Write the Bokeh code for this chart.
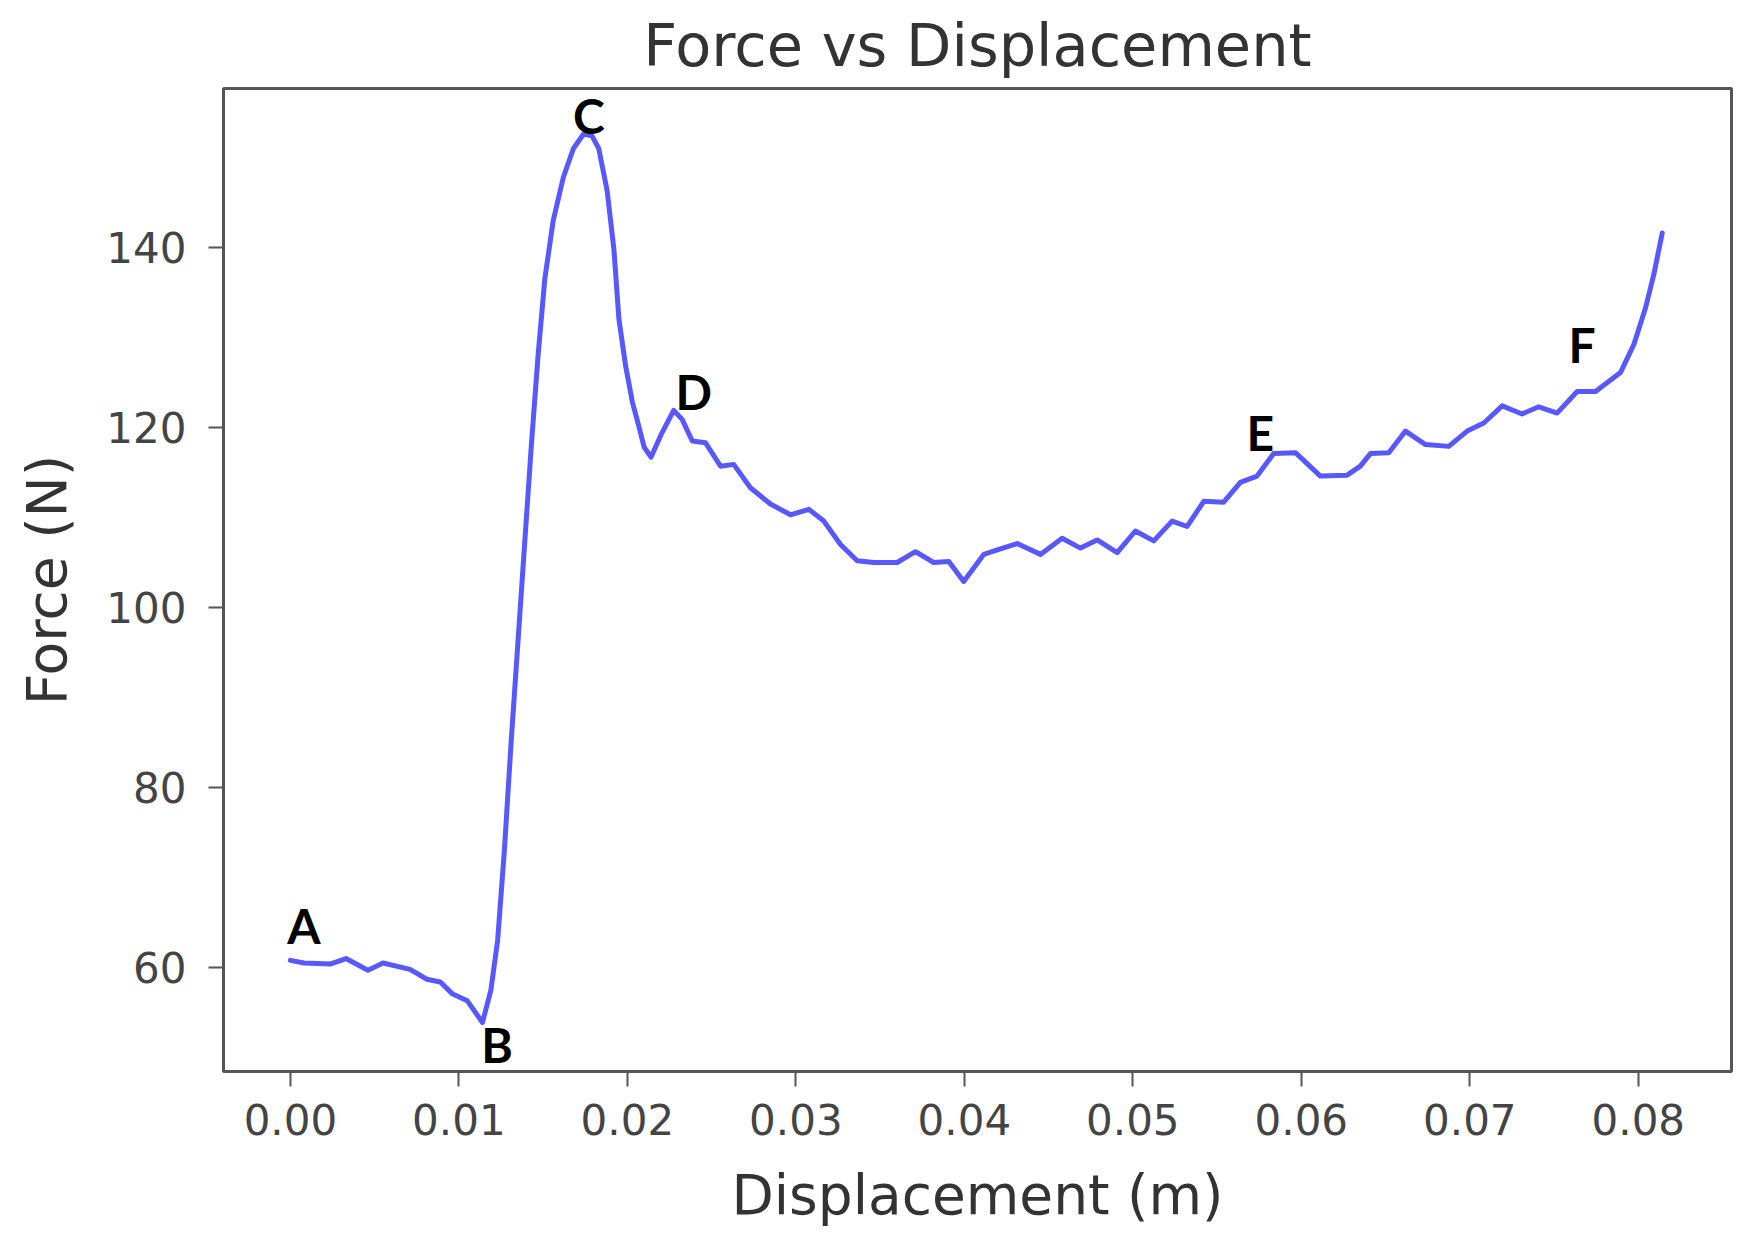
from bokeh.plotting import figure
from bokeh.models import Range1d, FixedTicker, NumeralTickFormatter, ColumnDataSource
from bokeh.core.properties import value
from bokeh.embed import file_html
from bokeh.resources import INLINE

# Displacement (m)
displacement = [
    0.0000, 0.0008, 0.0024, 0.0033, 0.0046, 0.0055, 0.0071, 0.0081, 0.0089, 0.0096,
    0.0105, 0.0114, 0.0119, 0.0123, 0.0127, 0.0131, 0.0135, 0.0139, 0.0143, 0.0147,
    0.0151, 0.0156, 0.0162, 0.0168, 0.0174, 0.0179, 0.0183, 0.0188, 0.0192, 0.0195,
    0.0199, 0.0203, 0.0206, 0.0210, 0.0214, 0.0220, 0.02275, 0.02325, 0.02385, 0.02464,
    0.02553, 0.02631, 0.0273, 0.02849, 0.02968, 0.03077, 0.03166, 0.03265, 0.03364, 0.03462,
    0.03601, 0.0371, 0.03818, 0.03908, 0.03996, 0.04115, 0.04214, 0.04313, 0.04452, 0.0458,
    0.04689, 0.04788, 0.04907, 0.05015, 0.05124, 0.05233, 0.05322, 0.05421, 0.05539, 0.05638,
    0.05737, 0.05836, 0.05965, 0.06113, 0.06272, 0.0635, 0.0641, 0.06519, 0.06618, 0.06737,
    0.06875, 0.06984, 0.07083, 0.07192, 0.0731, 0.07409, 0.07518, 0.07637, 0.07746, 0.07894,
    0.07973, 0.08043, 0.08092, 0.08142,
]
# Force (N)
force = [
    60.8, 60.5, 60.4, 61.0, 59.7, 60.5, 59.8, 58.7, 58.4, 57.1,
    56.3, 53.9, 57.5, 63.0, 73.0, 85.0, 96.0, 107.0, 118.0, 128.0,
    136.5, 143.0, 147.8, 151.0, 152.6, 152.4, 151.0, 146.3, 139.8, 132.0,
    126.8, 122.8, 120.7, 117.8, 116.7, 119.2, 121.9, 120.9, 118.5, 118.3,
    115.7, 115.9, 113.3, 111.5, 110.3, 110.9, 109.6, 107.0, 105.2, 105.0,
    105.0, 106.2, 105.0, 105.1, 102.9, 105.9, 106.5, 107.1, 105.9, 107.7,
    106.6, 107.5, 106.1, 108.5, 107.4, 109.6, 109.0, 111.8, 111.7, 113.9,
    114.6, 117.1, 117.2, 114.6, 114.7, 115.7, 117.1, 117.2, 119.6, 118.1,
    117.9, 119.6, 120.5, 122.4, 121.5, 122.3, 121.6, 124.0, 124.0, 126.1,
    129.2, 133.3, 137.0, 141.6,
]

# Point labels
label_text = ["A", "B", "C", "D", "E", "F"]
label_x = [0.0008, 0.01227, 0.01771, 0.02394, 0.05757, 0.07666]
label_y = [64.7, 51.4, 154.7, 124.0, 119.4, 129.2]

x_ticks = [0.00, 0.01, 0.02, 0.03, 0.04, 0.05, 0.06, 0.07, 0.08]
y_ticks = [60, 80, 100, 120, 140]

p = figure(
    frame_width=1508, frame_height=983,
    min_border_left=223, min_border_right=20, min_border_top=88, min_border_bottom=165,
    x_range=Range1d(-0.00397, 0.08553), y_range=Range1d(48.45, 157.66),
    output_backend="svg", toolbar_location=None,
    title="Force vs Displacement",
)
p.background_fill_color = "white"
p.border_fill_color = "white"
p.xgrid.visible = False
p.ygrid.visible = False
p.outline_line_color = "#555555"
p.outline_line_width = 3

p.title.align = "center"
p.title.text_font = "DejaVu Sans"
p.title.text_font_size = "59px"
p.title.text_font_style = "normal"
p.title.text_color = "#333333"
p.title.standoff = 17

for ax in (p.xaxis[0], p.yaxis[0]):
    ax.axis_line_color = "#555555"
    ax.axis_line_width = 3
    ax.major_tick_line_color = "#555555"
    ax.major_tick_line_width = 2
    ax.major_tick_out = 15
    ax.major_tick_in = 0
    ax.minor_tick_line_color = None
    ax.major_label_text_font = "DejaVu Sans"
    ax.major_label_text_font_size = "42px"
    ax.major_label_text_color = "#444444"
    ax.axis_label_text_font = "DejaVu Sans"
    ax.axis_label_text_font_size = "55px"
    ax.axis_label_text_font_style = "normal"
    ax.axis_label_text_color = "#333333"

p.xaxis.ticker = FixedTicker(ticks=x_ticks)
p.xaxis.formatter = NumeralTickFormatter(format="0.00")
p.yaxis.ticker = FixedTicker(ticks=y_ticks)
p.xaxis.axis_label = "Displacement (m)"
p.yaxis.axis_label = "Force (N)"
p.xaxis.major_label_standoff = 17
p.yaxis.major_label_standoff = 22
p.xaxis.axis_label_standoff = 25
p.yaxis.axis_label_standoff = 24

src = ColumnDataSource(dict(x=displacement, y=force))
p.line("x", "y", source=src, line_color="#5858ff", line_width=5, line_join="round", line_cap="round")

lsrc = ColumnDataSource(dict(x=label_x, y=label_y, t=label_text))
p.text("x", "y", text="t", source=lsrc, text_font=value("Lato"), text_font_style="bold",
       text_font_size="48px", text_align="center", text_baseline="middle", text_color="black")

open("out.html", "w").write(file_html(p, INLINE))
